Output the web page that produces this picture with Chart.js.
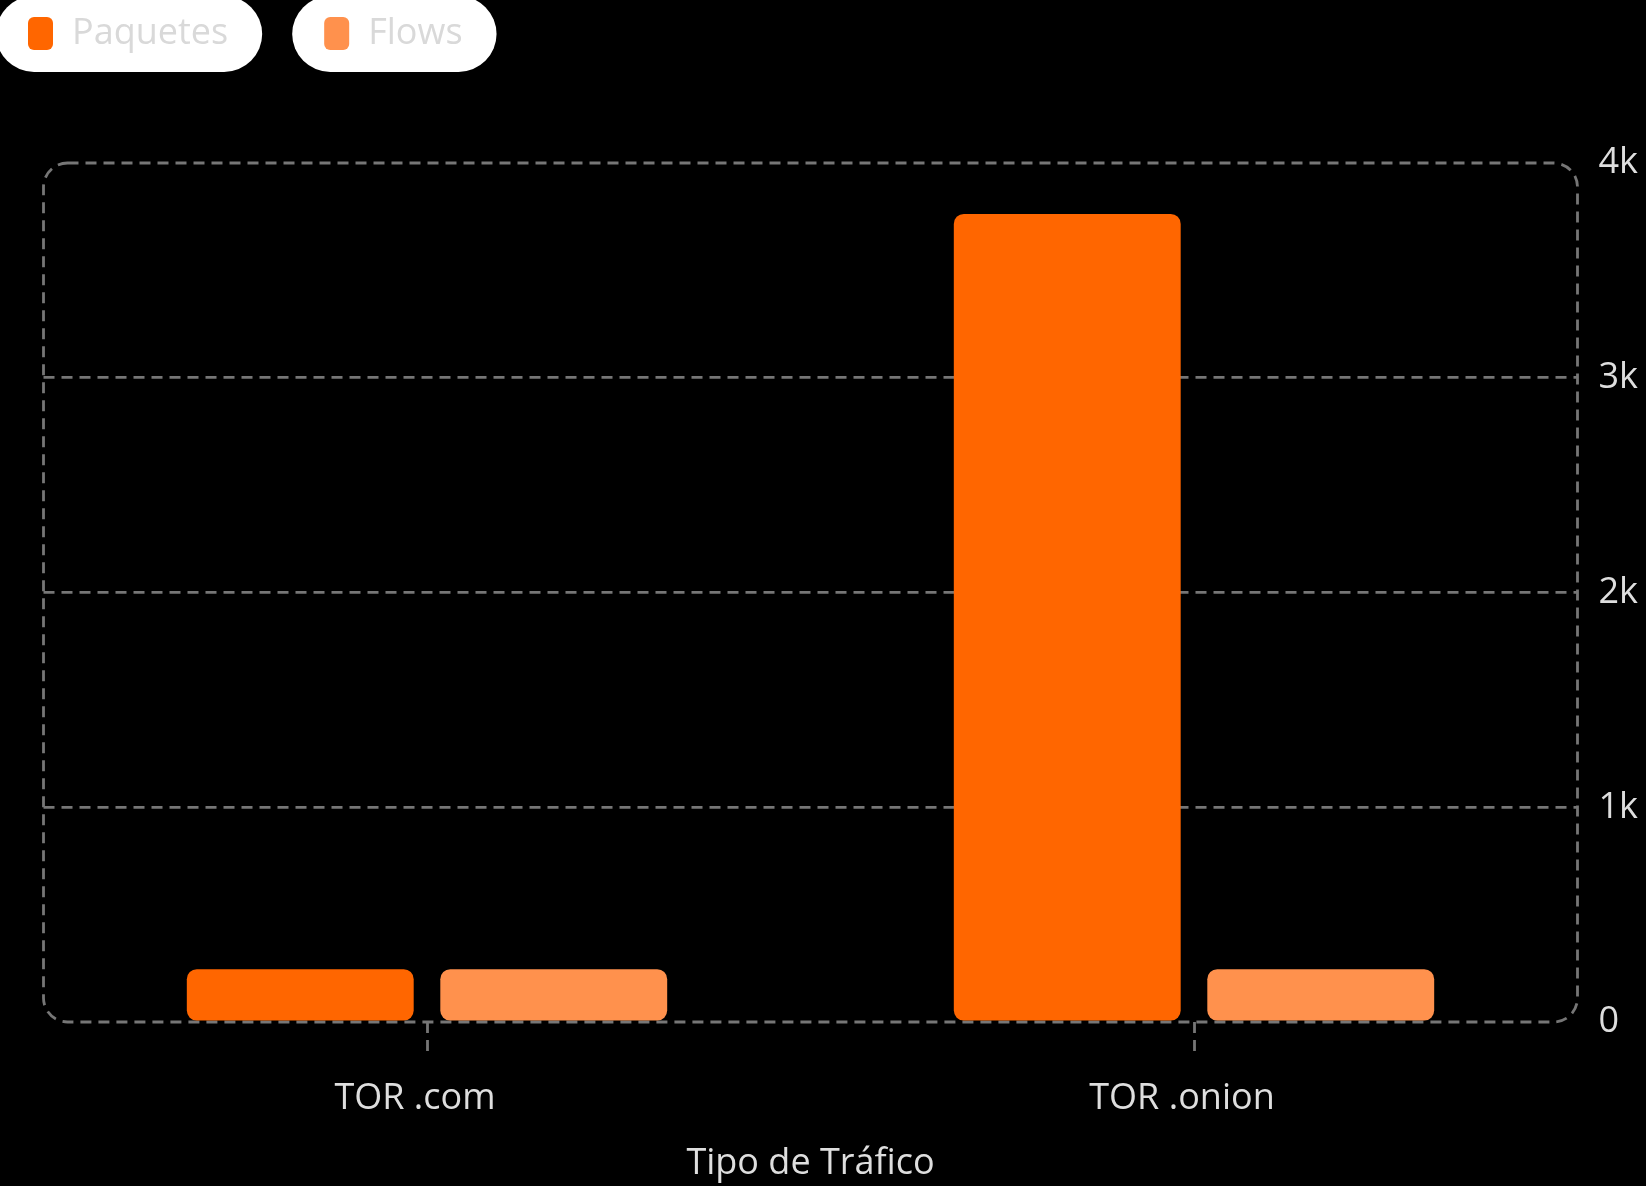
<!DOCTYPE html>
<html>
<head>
<meta charset="utf-8">
<script src="https://cdn.jsdelivr.net/npm/chart.js@4.4.1/dist/chart.umd.min.js"></script>
<style>
  html, body { margin: 0; padding: 0; background: #000; }
  #wrap { position: relative; width: 1646px; height: 1186px; }
</style>
</head>
<body>
<div id="wrap"><canvas id="c"></canvas></div>
<script>
// ---- data ----
const categories = ['TOR .com', 'TOR .onion'];
const seriesNames = ['Paquetes', 'Flows'];
const paquetes = [246, 3763];
const flows = [246, 246];
const yTickValues = [0, 1000, 2000, 3000, 4000];
const yTickLabels = ['0', '1k', '2k', '3k', '4k'];
const xTitle = 'Tipo de Tráfico';

// ---- styles ----
const FONT = '"Open Sans", "Noto Sans", sans-serif';
const GRID = '#767676';
const GRID_W = 2.8;
const TEXT = '#dedede';
const DASH = [11, 7];

Chart.defaults.font.family = FONT;

const bgPlugin = {
  id: 'bg',
  beforeDraw(chart) {
    const ctx = chart.ctx;
    ctx.save();
    ctx.fillStyle = '#000';
    ctx.fillRect(0, 0, chart.width, chart.height);
    ctx.restore();
  }
};

const framePlugin = {
  id: 'frame',
  beforeDatasetsDraw(chart) {
    const a = chart.chartArea;
    const ctx = chart.ctx;
    const r = 24;
    ctx.save();
    ctx.strokeStyle = GRID;
    ctx.lineWidth = GRID_W;
    ctx.setLineDash(DASH);
    ctx.beginPath();
    ctx.roundRect(a.left, a.top, a.right - a.left, a.bottom - a.top, r);
    ctx.stroke();
    ctx.restore();
  }
};

const pillLegend = {
  id: 'pillLegend',
  afterDraw(chart) {
    const ctx = chart.ctx;
    ctx.save();
    ctx.font = '36px ' + FONT;
    ctx.textBaseline = 'middle';
    ctx.textAlign = 'left';
    let x = -4;
    chart.data.datasets.forEach(ds => {
      const tw = ctx.measureText(ds.label).width;
      const w = 76 + tw + 34;
      ctx.fillStyle = '#ffffff';
      ctx.beginPath();
      ctx.roundRect(x, -4, w, 76, 38);
      ctx.fill();
      ctx.fillStyle = ds.backgroundColor;
      ctx.beginPath();
      ctx.roundRect(x + 32, 17, 25, 33, 6);
      ctx.fill();
      ctx.fillStyle = '#d9d9d9';
      ctx.fillText(ds.label, x + 76, 34);
      x += w + 30;
    });
    ctx.restore();
  }
};

new Chart(document.getElementById('c'), {
  type: 'bar',
  data: {
    labels: categories,
    datasets: [
      { label: seriesNames[0], data: paquetes, backgroundColor: '#ff6600' },
      { label: seriesNames[1], data: flows, backgroundColor: '#ff914d' }
    ]
  },
  options: {
    responsive: true,
    maintainAspectRatio: false,
    animation: false,
    layout: { padding: { left: 43.5, top: 163, right: 0, bottom: 0 } },
    datasets: {
      bar: {
        categoryPercentage: 0.661,
        barPercentage: 0.895,
        borderRadius: 10,
        borderSkipped: false
      }
    },
    plugins: {
      legend: { display: false },
      tooltip: { enabled: false }
    },
    scales: {
      x: {
        position: 'bottom',
        grid: {
          display: true,
          drawOnChartArea: false,
          drawTicks: true,
          offset: false,
          tickLength: 30,
          tickColor: GRID,
          tickWidth: GRID_W,
          tickBorderDash: DASH
        },
        border: { display: false },
        ticks: {
          color: TEXT,
          font: { size: 36 },
          padding: 25,
          labelOffset: -12,
          maxRotation: 0
        },
        title: {
          display: true,
          text: xTitle,
          color: TEXT,
          font: { size: 36 },
          padding: { top: 0, bottom: 1 }
        },
        afterFit(scale) { scale.height = 164; }
      },
      y: {
        position: 'right',
        min: 0,
        max: 4000,
        grid: {
          drawTicks: false,
          lineWidth: GRID_W,
          borderDash: DASH,
          color: (c) => (c.tick && (c.tick.value === yTickValues[0] || c.tick.value === yTickValues[yTickValues.length - 1])) ? 'rgba(0,0,0,0)' : GRID
        },
        border: { display: false, dash: DASH },
        afterBuildTicks(scale) {
          scale.ticks = yTickValues.map(v => ({ value: v }));
        },
        ticks: {
          color: TEXT,
          font: { size: 36 },
          padding: 21,
          callback: (v) => {
            const i = yTickValues.indexOf(v);
            return i >= 0 ? yTickLabels[i] : '';
          }
        },
        afterFit(scale) { scale.width = 68.5; }
      }
    }
  },
  plugins: [bgPlugin, framePlugin, pillLegend]
});
</script>
</body>
</html>
